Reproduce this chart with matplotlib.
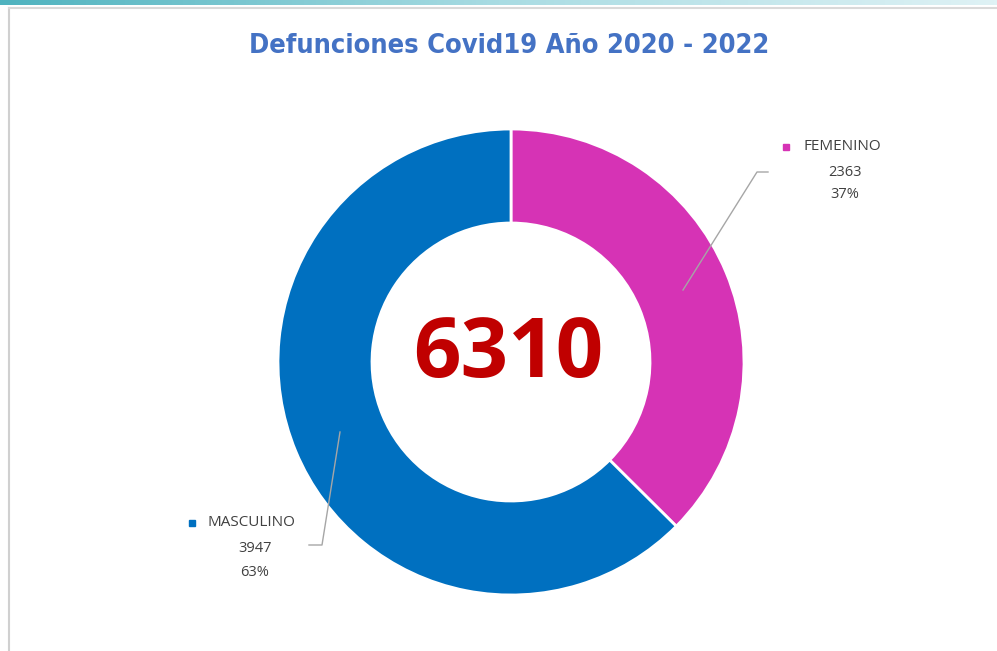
# Donut chart: Covid19 deaths by sex, 2020 - 2022
import numpy as np
import matplotlib.pyplot as plt
from matplotlib.colors import LinearSegmentedColormap
from matplotlib.patches import Rectangle

labels = ['FEMENINO', 'MASCULINO']
values = [2363, 3947]
percents = ['37%', '63%']
colors = ['#D633B5', '#0070C0']
title = 'Defunciones Covid19 Año 2020 - 2022'
total = sum(values)

W, H = 997, 651
fig = plt.figure(figsize=(W / 100, H / 100), dpi=100)
fig.patch.set_facecolor('white')
ax = fig.add_axes([0, 0, 1, 1])

cx, cy = 511, H - 362
r_out, r_in = 233, 139
ax.pie(values, colors=colors, startangle=90, counterclock=False,
       center=(cx, cy), radius=r_out, frame=True,
       wedgeprops=dict(width=r_out - r_in, edgecolor='white', linewidth=2))
ax.set_xlim(0, W)
ax.set_ylim(0, H)
ax.set_aspect('auto')
ax.axis('off')

# top gradient strip and chart frame
grad = np.linspace(0, 1, 256).reshape(1, -1)
strip = LinearSegmentedColormap.from_list('strip', ['#4FB3BF', '#A9DCE3', '#DFF2F5'])
ax.imshow(grad, extent=(0, W, H - 5, H), aspect='auto', cmap=strip, zorder=0)
ax.plot([9, 9], [0, H - 8], color='#D0D0D0', lw=1.5)
ax.plot([9, W], [H - 8, H - 8], color='#D9D9D9', lw=1.5)

ax.text(cx - 2, H - 46, title, ha='center', va='center', fontsize=19.5, fontweight='bold',
        fontstretch='condensed', color='#4472C4', family=['DejaVu Sans'])
ax.text(cx - 3, H - 356, str(total), ha='center', va='center', fontsize=60,
        fontweight='bold', color='#C00000', family=['Open Sans', 'DejaVu Sans'])

# leader lines and labels
lbl_font = ['Open Sans', 'DejaVu Sans']
ax.plot([683, 757, 768], [H - 290, H - 172, H - 172], color='#A6A6A6', lw=1)
ax.plot([340, 322, 309], [H - 432, H - 545, H - 545], color='#A6A6A6', lw=1)

ax.add_patch(Rectangle((783, H - 150), 6, 6, color=colors[0]))
ax.text(803, H - 147, labels[0], ha='left', va='center', fontsize=11, color='#404040', family=lbl_font)
ax.text(845, H - 172, str(values[0]), ha='center', va='center', fontsize=10.5, color='#404040', family=lbl_font)
ax.text(845, H - 195, percents[0], ha='center', va='center', fontsize=10.5, color='#404040', family=lbl_font)

ax.add_patch(Rectangle((189, H - 526), 6, 6, color=colors[1]))
ax.text(207, H - 523, labels[1], ha='left', va='center', fontsize=11, color='#404040', family=lbl_font)
ax.text(255, H - 548, str(values[1]), ha='center', va='center', fontsize=10.5, color='#404040', family=lbl_font)
ax.text(255, H - 572, percents[1], ha='center', va='center', fontsize=10.5, color='#404040', family=lbl_font)

fig.savefig('out.png', dpi=100)
